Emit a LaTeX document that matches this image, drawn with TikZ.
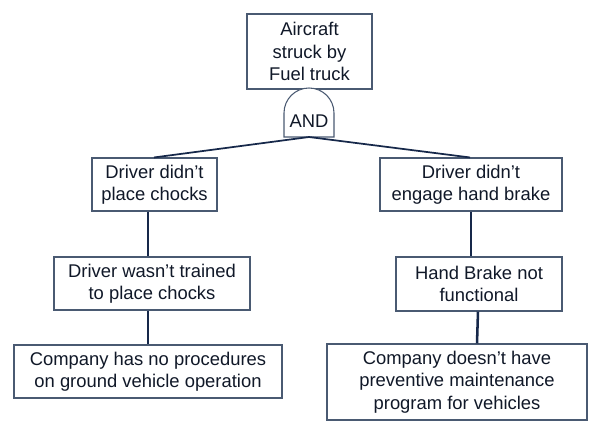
\documentclass[tikz,border=0pt]{standalone}
\usepackage{fontspec}
\setmainfont{Liberation Sans}
\definecolor{boxline}{HTML}{4A5A72}
\definecolor{conn}{HTML}{16284A}
\definecolor{txt}{HTML}{101828}
\begin{document}
\begin{tikzpicture}[x=0.75pt,y=-0.75pt,
  evbox/.style={draw=boxline,line width=0.8pt,fill=white,rectangle,align=center,inner sep=0pt,
    font=\fontsize{13.8}{16.8}\selectfont,text=txt},
  vconn/.style={draw=conn,line width=1.9pt},
  sconn/.style={draw=conn,line width=1.3pt}]
\useasboundingbox (0,0) rectangle (597,429);
% top event
\node[evbox,minimum width=125*0.75pt,minimum height=75*0.75pt] (top) at (309.5,51.5) {Aircraft\\struck by\\Fuel truck};
% AND gate
\draw[boxline,line width=0.8pt,fill=white] (284,137) -- (284,113) arc[start angle=180,end angle=0,radius=25*0.75pt] -- (334,137) -- cycle;
\coordinate (gb) at (309,137);
\node[font=\fontsize{13.8}{16.8}\selectfont,text=txt] (gate) at (309,121) {AND};
% left branch
\node[evbox,minimum width=125*0.75pt,minimum height=53*0.75pt] (l1) at (154.5,184.5) {Driver didn’t\\place chocks};
\node[evbox,minimum width=196*0.75pt,minimum height=53*0.75pt] (l2) at (152,283.5) {Driver wasn’t trained\\to place chocks};
\node[evbox,minimum width=268*0.75pt,minimum height=53*0.75pt] (l3) at (148,371.5) {Company has no procedures\\on ground vehicle operation};
% right branch
\node[evbox,minimum width=182*0.75pt,minimum height=53*0.75pt] (r1) at (471,184.5) {Driver didn’t\\engage hand brake};
\node[evbox,minimum width=166*0.75pt,minimum height=54*0.75pt] (r2) at (479,284) {Hand Brake not\\functional};
\node[evbox,minimum width=260*0.75pt,minimum height=76*0.75pt] (r3) at (457,382) {Company doesn’t have\\preventive maintenance\\program for vehicles};
% connectors
\draw[sconn] (gb) -- ([xshift=-0.5*0.75pt]l1.north);
\draw[sconn] (gb) -- ([xshift=-1*0.75pt]r1.north);
\draw[vconn] ([xshift=-6.5*0.75pt]l1.south) -- ([xshift=-4*0.75pt]l2.north);
\draw[vconn] ([xshift=-4*0.75pt]l2.south) -- (l3.north);
\draw[vconn] (r1.south) -- ([xshift=-8*0.75pt]r2.north);
\draw[vconn] ([xshift=-1*0.75pt]r2.south) -- ([xshift=20*0.75pt]r3.north);
\end{tikzpicture}
\end{document}
